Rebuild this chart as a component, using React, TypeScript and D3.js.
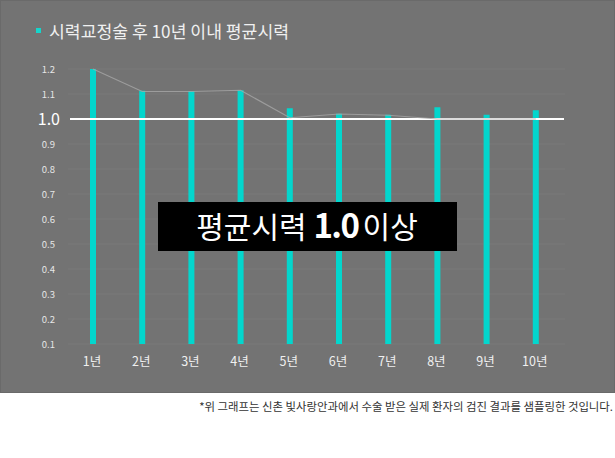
import React from "react";
import * as d3 from "d3";

const categories = ["1년", "2년", "3년", "4년", "5년", "6년", "7년", "8년", "9년", "10년"];
const barValues = [1.2, 1.113, 1.112, 1.115, 1.043, 1.021, 1.017, 1.047, 1.017, 1.035];
const lineValues = [1.2, 1.11, 1.11, 1.115, 1.005, 1.02, 1.015, 1.0, 1.0, 1.0];
const yTicks = [0.1, 0.2, 0.3, 0.4, 0.5, 0.6, 0.7, 0.8, 0.9, 1.0, 1.1, 1.2];
const title = "시력교정술 후 10년 이내 평균시력";
const footnote = "*위 그래프는 신촌 빛사랑안과에서 수술 받은 실제 환자의 검진 결과를 샘플링한 것입니다.";

const W = 615;
const H = 458;
const FONT = "'Noto Sans CJK KR', 'Noto Sans', sans-serif";

export default function App() {
  const x = d3.scalePoint<string>().domain(categories).range([93, 535.8]);
  const y = d3.scaleLinear().domain([0.1, 1.2]).range([344, 69]);
  const barW = 6;
  const line = d3
    .line<number>()
    .x((_, i) => x(categories[i]) as number)
    .y((d) => y(d));

  return (
    <svg
      width={W}
      height={H}
      style={{ position: "absolute", left: 0, top: 0, background: "#fff" }}
      fontFamily={FONT}
    >
      <rect x={0.5} y={0.5} width={W - 1} height={392} fill="#737373" stroke="#6a6a6a" />
      {/* title */}
      <rect x={36} y={28} width={5} height={5} fill="#14d6cc" />
      <text x={49} y={37.5} fontSize={17.2} fill="#f0f0f0">
        {title}
      </text>
      {/* grid */}
      {yTicks
        .filter((t) => t !== 1.0)
        .map((t) => (
          <line key={t} x1={68} x2={565} y1={y(t)} y2={y(t)} stroke="#7b7b7b" strokeWidth={1} />
        ))}
      {/* y labels */}
      {yTicks.map((t) =>
        t === 1.0 ? (
          <text key={t} x={60} y={y(t) + 5.5} fontSize={16} fill="#ffffff" textAnchor="end">
            {t.toFixed(1)}
          </text>
        ) : (
          <text key={t} x={55} y={y(t) + 3.5} fontSize={9.5} fill="#e6e6e6" textAnchor="end">
            {t.toFixed(1)}
          </text>
        )
      )}
      {/* bars */}
      {barValues.map((v, i) => (
        <rect
          key={i}
          x={(x(categories[i]) as number) - barW / 2}
          y={y(v)}
          width={barW}
          height={y(0.1) - y(v)}
          fill="#03d6cd"
        />
      ))}
      {/* white 1.0 line */}
      <line x1={70} x2={564} y1={y(1.0)} y2={y(1.0)} stroke="#ffffff" strokeWidth={2} />
      {/* trend line */}
      <path d={line(lineValues) || ""} fill="none" stroke="#a6a6a6" strokeWidth={1.2} opacity={0.8} />
      {/* x labels */}
      {categories.map((c) => (
        <text key={c} x={(x(c) as number) - 1} y={366} fontSize={12.5} fill="#f0f0f0" textAnchor="middle">
          {c}
        </text>
      ))}
      {/* label box */}
      <rect x={158} y={202} width={299} height={49} fill="#000" />
      <text x={307} y={238} textAnchor="middle" fill="#ffffff" fontSize={30}>
        <tspan>평균시력 </tspan>
        <tspan fontSize={33} fontWeight="bold" letterSpacing={-1.5}>1.0</tspan>
        <tspan dx={4}>이상</tspan>
      </text>
      {/* footnote */}
      <text x={613} y={411} textAnchor="end" fontSize={11.4} fill="#333">
        {footnote}
      </text>
    </svg>
  );
}
